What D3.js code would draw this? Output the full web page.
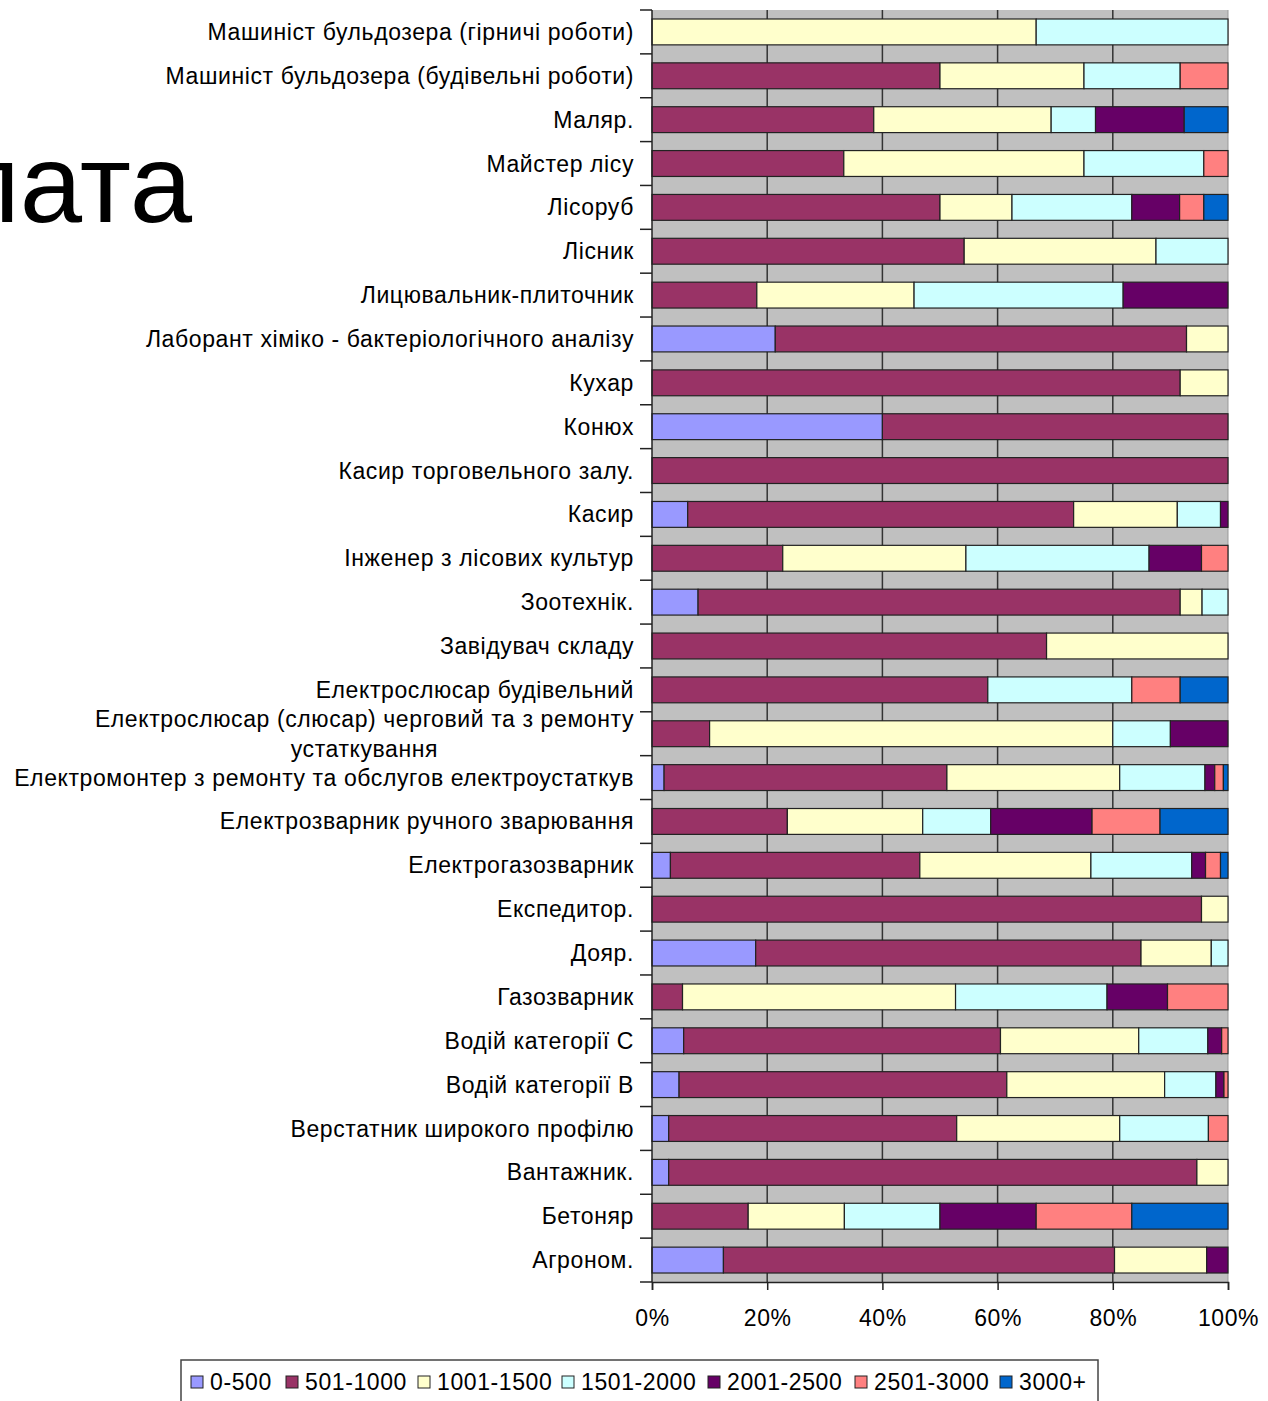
<!DOCTYPE html>
<html>
<head>
<meta charset="utf-8">
<script src="https://cdn.jsdelivr.net/npm/d3@7"></script>
<style>
  body { margin: 0; background: #fff; }
  text { font-family: "Liberation Sans", Arial, sans-serif; letter-spacing: 0.6px; }
</style>
</head>
<body>
<svg id="chart" width="1268" height="1401"></svg>
<script>
// categories, top to bottom
var categories = [
    "Машиніст бульдозера (гірничі роботи)",
    "Машиніст бульдозера (будівельні роботи)",
    "Маляр.",
    "Майстер лісу",
    "Лісоруб",
    "Лісник",
    "Лицювальник-плиточник",
    "Лаборант хіміко - бактеріологічного аналізу",
    "Кухар",
    "Конюх",
    "Касир торговельного залу.",
    "Касир",
    "Інженер з лісових культур",
    "Зоотехнік.",
    "Завідувач складу",
    "Електрослюсар будівельний",
    "Електрослюсар (слюсар) черговий та з ремонту|устаткування",
    "Електромонтер з ремонту та обслугов електроустаткув",
    "Електрозварник ручного зварювання",
    "Електрогазозварник",
    "Експедитор.",
    "Дояр.",
    "Газозварник",
    "Водій категорії С",
    "Водій категорії В",
    "Верстатник широкого профілю",
    "Вантажник.",
    "Бетоняр",
    "Агроном."
]

var seriesNames = ["0-500", "501-1000", "1001-1500", "1501-2000", "2001-2500", "2501-3000", "3000+"]
var seriesColors = ["#9999FF", "#993366", "#FFFFCC", "#CCFFFF", "#660066", "#FF8080", "#0066CC"]

// shares in % per salary range (same order as categories)
var s0_500 =     [0, 0, 0, 0, 0, 0, 0, 21.4, 0, 40, 0, 6.2, 0, 8, 0, 0, 0, 2.1, 0, 3.2, 0, 18, 0, 5.5, 4.7, 2.9, 2.9, 0, 12.4]
var s501_1000 =  [0, 50, 38.5, 33.3, 50, 54.2, 18.2, 71.4, 91.7, 60, 100, 67, 22.7, 83.7, 68.5, 58.3, 10, 49.1, 23.5, 43.3, 95.4, 66.9, 5.3, 55, 56.9, 50, 91.7, 16.7, 67.9]
var s1001_1500 = [66.7, 25, 30.8, 41.7, 12.5, 33.3, 27.3, 7.2, 8.3, 0, 0, 18, 31.8, 3.8, 31.5, 0, 70, 30, 23.5, 29.7, 4.6, 12.2, 47.4, 24, 27.4, 28.3, 5.4, 16.7, 16]
var s1501_2000 = [33.3, 16.7, 7.7, 20.8, 20.8, 12.5, 36.3, 0, 0, 0, 0, 7.5, 31.8, 4.5, 0, 25, 10, 14.8, 11.8, 17.5, 0, 2.9, 26.3, 12, 8.9, 15.4, 0, 16.6, 0]
var s2001_2500 = [0, 0, 15.4, 0, 8.3, 0, 18.2, 0, 0, 0, 0, 1.3, 9.1, 0, 0, 0, 10, 1.7, 17.6, 2.4, 0, 0, 10.5, 2.4, 1.4, 0, 0, 16.7, 3.7]
var s2501_3000 = [0, 8.3, 0, 4.2, 4.2, 0, 0, 0, 0, 0, 0, 0, 4.6, 0, 0, 8.4, 0, 1.5, 11.8, 2.6, 0, 0, 10.5, 1.1, 0.7, 3.4, 0, 16.6, 0]
var s3000plus =  [0, 0, 7.6, 0, 4.2, 0, 0, 0, 0, 0, 0, 0, 0, 0, 0, 8.3, 0, 0.8, 11.8, 1.3, 0, 0, 0, 0, 0, 0, 0, 16.7, 0]

var xTicks = [0, 0.2, 0.4, 0.6, 0.8, 1]

var allSeries = [s0_500, s501_1000, s1001_1500, s1501_2000, s2001_2500, s2501_3000, s3000plus]

// build rows for d3.stack
var table = categories.map(function(c, i){
    var row = {cat: c}
    seriesNames.forEach(function(s, j){ row[s] = allSeries[j][i] })
    return row
})

var svg = d3.select("#chart")

var margin = {top: 10, left: 652, right: 40, bottom: 119}
var width = 1228 - margin.left,
    height = 1282 - margin.top

// title, mostly hidden off the left edge (as in the original slide)
svg.append("text")
    .attr("x", 192)
    .attr("y", 222)
    .attr("text-anchor", "end")
    .style("font-size", "112px")
    .style("letter-spacing", "0px")
    .attr("fill", "#000")
    .text("Заробітна плата")

var g = svg.append("g").attr("transform", "translate(" + margin.left + "," + margin.top + ")")

var x = d3.scaleLinear().domain([0, 1]).range([0, width])
var y = d3.scaleBand().domain(categories).range([0, height]).paddingInner(0.41).paddingOuter(0.205)

var stacked = d3.stack().keys(seriesNames).offset(d3.stackOffsetExpand)(table)

// plot area
g.append("rect")
    .attr("width", width)
    .attr("height", height)
    .attr("fill", "#C0C0C0")

// gridlines
g.selectAll(".grid")
    .data(xTicks.slice(1, -1))
    .enter().append("line")
    .attr("x1", function(d){ return x(d) })
    .attr("x2", function(d){ return x(d) })
    .attr("y1", 0)
    .attr("y2", height)
    .attr("stroke", "#333")
    .attr("stroke-width", 1.5)

g.append("line")
    .attr("x1", width).attr("x2", width)
    .attr("y1", 0).attr("y2", height)
    .attr("stroke", "#999")
    .attr("stroke-width", 1)

// bars
g.selectAll(".layer")
    .data(stacked)
    .enter().append("g")
    .attr("fill", function(d, i){ return seriesColors[i] })
    .selectAll("rect")
    .data(function(d){ return d.filter(function(p){ return p[1] - p[0] > 0 }) })
    .enter().append("rect")
    .attr("x", function(d){ return x(d[0]) })
    .attr("y", function(d){ return y(d.data.cat) })
    .attr("width", function(d){ return x(d[1]) - x(d[0]) })
    .attr("height", y.bandwidth())
    .attr("stroke", "#222")
    .attr("stroke-width", 1.2)

// x axis
var xAxis = d3.axisBottom(x).tickValues(xTicks).tickFormat(d3.format(".0%")).tickSize(8).tickPadding(20)
var xg = g.append("g").attr("transform", "translate(0," + height + ")").call(xAxis)
xg.select(".domain").attr("stroke", "#222").attr("stroke-width", 1.5)
xg.selectAll(".tick line").attr("stroke", "#222").attr("stroke-width", 1.5)
xg.selectAll(".tick text")
    .style("font-size", "23px")
    .attr("fill", "#000")

// y axis: ticks between categories
var step = y.step()
var boundaries = d3.range(categories.length + 1).map(function(i){ return i * step })
g.selectAll(".ytick")
    .data(boundaries)
    .enter().append("line")
    .attr("x1", -12).attr("x2", 0)
    .attr("y1", function(d){ return d }).attr("y2", function(d){ return d })
    .attr("stroke", "#222")
    .attr("stroke-width", 1.5)
g.append("line")
    .attr("x1", 0).attr("x2", 0).attr("y1", 0).attr("y2", height)
    .attr("stroke", "#222").attr("stroke-width", 1.5)

// category labels
var labels = g.selectAll(".lab")
    .data(categories)
    .enter().append("text")
    .attr("fill", "#000")
    .style("font-size", "23px")
    .attr("text-anchor", "end")
    .attr("x", -18)
    .attr("y", function(d){ return y(d) + y.bandwidth() / 2 })
    .attr("dy", "0.35em")

labels.each(function(d){
    var t = d3.select(this)
    var parts = d.split("|")
    if (parts.length == 1) {
        t.text(d)
        return
    }
    // two-line label, lines centred on each other
    t.attr("text-anchor", "middle").attr("dy", null)
    var first = t.append("tspan").text(parts[0])
    var w = first.node().getComputedTextLength()
    var cx = -18 - w / 2
    var yc = y(d) + y.bandwidth() / 2
    first.attr("x", cx).attr("y", yc - 7)
    t.append("tspan").text(parts[1]).attr("x", cx).attr("y", yc + 23)
})

// legend
var legend = svg.append("g").attr("transform", "translate(181,1360)")
legend.append("rect")
    .attr("width", 917)
    .attr("height", 44)
    .attr("fill", "#fff")
    .attr("stroke", "#444")
    .attr("stroke-width", 1.5)

var legendX = [10, 105, 237, 381, 527, 674, 819]
var items = legend.selectAll(".item")
    .data(seriesNames)
    .enter().append("g")
    .attr("transform", function(d, i){ return "translate(" + legendX[i] + ",0)" })
items.append("rect")
    .attr("y", 16)
    .attr("width", 12)
    .attr("height", 12)
    .attr("fill", function(d, i){ return seriesColors[i] })
    .attr("stroke", "#222")
    .attr("stroke-width", 1)
items.append("text")
    .attr("x", 19)
    .attr("y", 22)
    .attr("dy", "0.35em")
    .style("font-size", "23px")
    .attr("fill", "#000")
    .text(function(d){ return d })
</script>
</body>
</html>
